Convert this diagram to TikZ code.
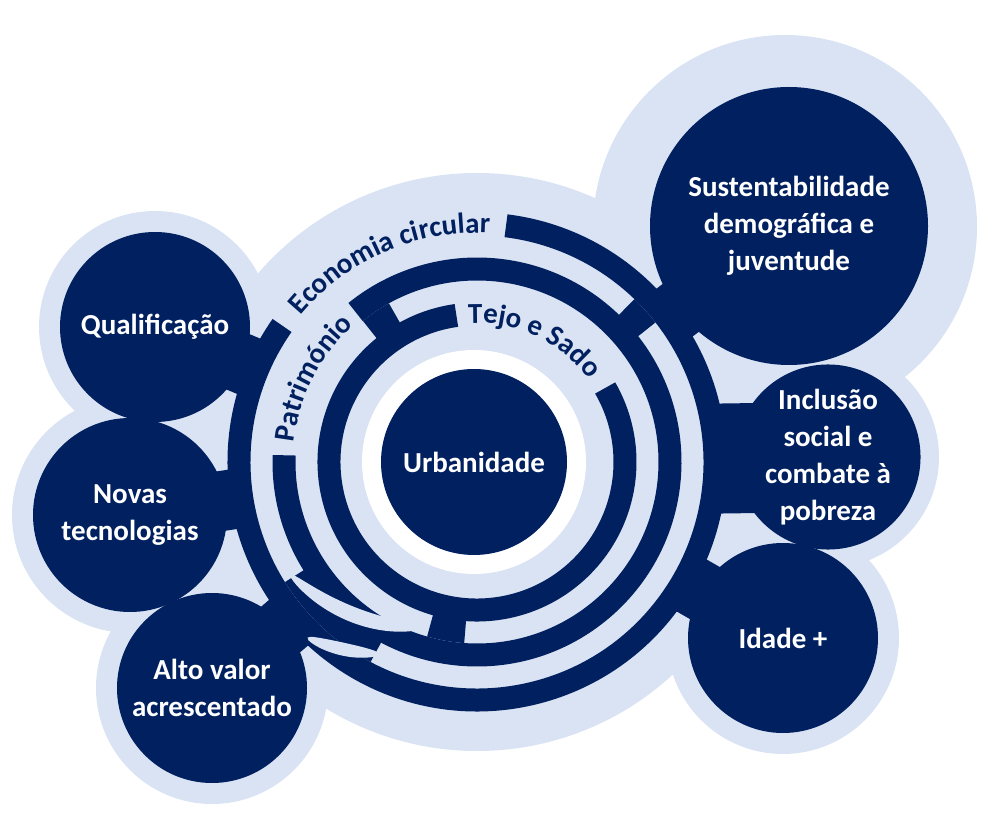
\documentclass[tikz,border=0pt]{standalone}
\usepackage{fontspec}
\setmainfont{Carlito}
\usetikzlibrary{calc, decorations.text}
\definecolor{navy}{HTML}{002060}
\definecolor{pale}{HTML}{DAE3F3}
\pgfdeclarelayer{back}
\pgfsetlayers{back,main}

\begin{document}
\begin{tikzpicture}[
  x=1pt, y=1pt,
  topic/.style={circle, fill=navy, text=white, inner sep=0pt, align=center,
    font=\fontsize{29}{37}\selectfont\bfseries, minimum size=#1},
  band/.style={draw=navy, line width=23pt},
  neck/.style={draw=navy, line width=#1},
  neck/.default=60pt,
  arclabel/.style={decorate, decoration={text along path, text align=center,
    text={|\fontsize{29}{30}\selectfont\bfseries\color{navy}|#1}}},
  declare function={
    lensa(\t)=218-(\t-211)*44/41;  wa(\t)=8*sqrt(max(0,sin(180*(\t-211)/41)));
    lensb(\t)=244-(\t-226)*28/17;  wb(\t)=7*sqrt(max(0,sin(180*(\t-226)/17)));
  }
]
\useasboundingbox (0,0) rectangle (985,812);

% the themes
\node[topic=186pt] (urb) at (474,350) {Urbanidade};
\node[topic=190pt] (qual) at (155,485) {Qualificação};
\node[topic=194pt] (novas) at (130,297) {Novas\\tecnologias};
\node[topic=190pt] (alto) at (212,124) {Alto valor\\acrescentado};
\node[topic=278pt] (sust) at (789,586) {Sustentabilidade\\demográfica e\\juventude};
\node[topic=180pt] (incl) at (828,355) {Inclusão\\social e\\combate à\\pobreza};
\node[topic=190pt] (idade) at (783,174) {Idade +};
\coordinate (hub) at (477,350);

\begin{pgfonlayer}{back}
% light backdrop
\fill[pale] (hub) circle (289);
\fill[pale] (785,585) circle (192);
\foreach \n/\r in {qual/116, novas/118, alto/116, incl/111, idade/116}
  \fill[pale] (\n) circle (\r);

% outer ring and the necks to the themes
\draw[band] ($(hub)+(145:238)$) arc[start angle=145, end angle=443, radius=238];
\foreach \n in {qual, novas, alto, sust, idade}
  \draw[neck] (\n.center) -- ($(hub)!238pt!(\n)$);
\draw[neck=110pt] (incl.center) -- ($(hub)!238pt!(incl)$);

% middle and inner ring
\draw[band] ($(hub)+(178:193)$) arc[start angle=178, end angle=489, radius=193];
\draw[band] ($(hub)+(98:148)$) arc[start angle=98, end angle=390, radius=148];

% bridges between the rings
\draw[band] ($(hub)+(119:170)$) arc[start angle=119, end angle=129, radius=170];
\draw[band] ($(hub)+(254:170)$) arc[start angle=254, end angle=266, radius=170];
\draw[band] ($(hub)+(38:215)$) arc[start angle=38, end angle=46, radius=215];
\draw[band] ($(hub)+(212:215)$) arc[start angle=212, end angle=242, radius=215];

% slanted slots through the rings
\begin{scope}[shift={(hub)}]
  \fill[pale] plot[domain=211:252, samples=40] (\x:{lensa(\x)+wa(\x)})
    -- plot[domain=252:211, samples=40] (\x:{lensa(\x)-wa(\x)}) -- cycle;
  \fill[pale] plot[domain=226:243, samples=30] (\x:{lensb(\x)+wb(\x)})
    -- plot[domain=243:226, samples=30] (\x:{lensb(\x)-wb(\x)}) -- cycle;
\end{scope}

% white gap round the core
\fill[white] (urb) circle (112);
\end{pgfonlayer}

% ring labels
\path[arclabel=Economia circular] ($(hub)+(142:229)$) arc[start angle=142, end angle=85, radius=229];
\path[arclabel=Património] ($(hub)+(182:184)$) arc[start angle=182, end angle=124, radius=184];
\path[arclabel=Tejo e Sado] ($(hub)+(97:139)$) arc[start angle=97, end angle=33, radius=139];
\end{tikzpicture}
\end{document}
